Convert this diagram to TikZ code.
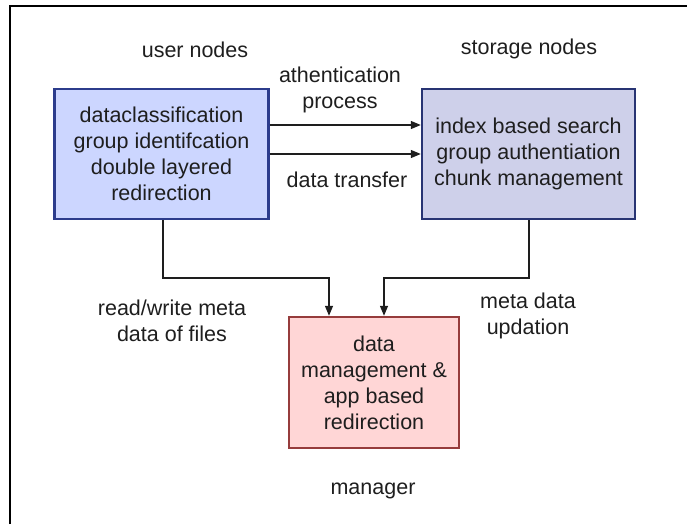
\documentclass[tikz,border=0pt]{standalone}
\usepackage{fontspec}
\setmainfont{Liberation Sans}
\usetikzlibrary{arrows.meta}
\definecolor{userfill}{RGB}{204,214,255}
\definecolor{userdraw}{RGB}{44,60,140}
\definecolor{storefill}{RGB}{206,208,234}
\definecolor{storedraw}{RGB}{40,52,115}
\definecolor{mgrfill}{RGB}{255,214,214}
\definecolor{mgrdraw}{RGB}{150,60,60}
\definecolor{ink}{RGB}{30,30,30}
\tikzset{
  block/.style={draw, line width=2.4pt, align=center, inner sep=0pt,
    font=\fontsize{21.5}{26}\selectfont, text=ink},
  lbl/.style={align=center, font=\fontsize{21.5}{26}\selectfont, text=ink},
  conn/.style={draw=ink, line width=1.3pt, -{Triangle[length=10pt,width=8pt]}},
}
\begin{document}
\begin{tikzpicture}[x=1pt,y=-1pt]
\useasboundingbox (0,0) rectangle (687,524);
% frame edges
\draw[line width=2pt] (10,524) -- (10,6) -- (687,6);

% blocks
\node[block, fill=userfill, draw=userdraw, minimum width=214pt, minimum height=130pt]
  (user) at (161.5,154) {dataclassification\\group identifcation\\double layered\\redirection};
\node[block, fill=storefill, draw=storedraw, minimum width=213pt, minimum height=130pt]
  (store) at (528.5,154) {index based search\\group authentiation\\chunk management};
\node[block, fill=mgrfill, draw=mgrdraw, minimum width=170pt, minimum height=131pt]
  (mgr) at (374,382.5) {data\\management \&\\app based\\redirection};

% captions
\node[lbl, anchor=base] (tuser) at (195,58) {user nodes};
\node[lbl, anchor=base] (tstore) at (529,55) {storage nodes};
\node[lbl] (tmgr) at (373,491) {manager};
\node[lbl] (tauth) at (340,90) {athentication\\process};
\node[lbl] (ttrans) at (347,180) {data transfer};
\node[lbl] (trw) at (172,321) {read/write meta\\data of files};
\node[lbl] (tmeta) at (528,316) {meta data\\updation};

% connectors
\draw[conn] (user.east |- 0,125) -- (store.west |- 0,125);
\draw[conn] (user.east |- 0,154) -- (store.west |- 0,154);
\draw[conn] (user.south -| 163,0) -- (163,278) -- (329,278) -- (mgr.north -| 329,0);
\draw[conn] (store.south -| 529,0) -- (529,278) -- (384,278) -- (mgr.north -| 384,0);
\end{tikzpicture}
\end{document}
